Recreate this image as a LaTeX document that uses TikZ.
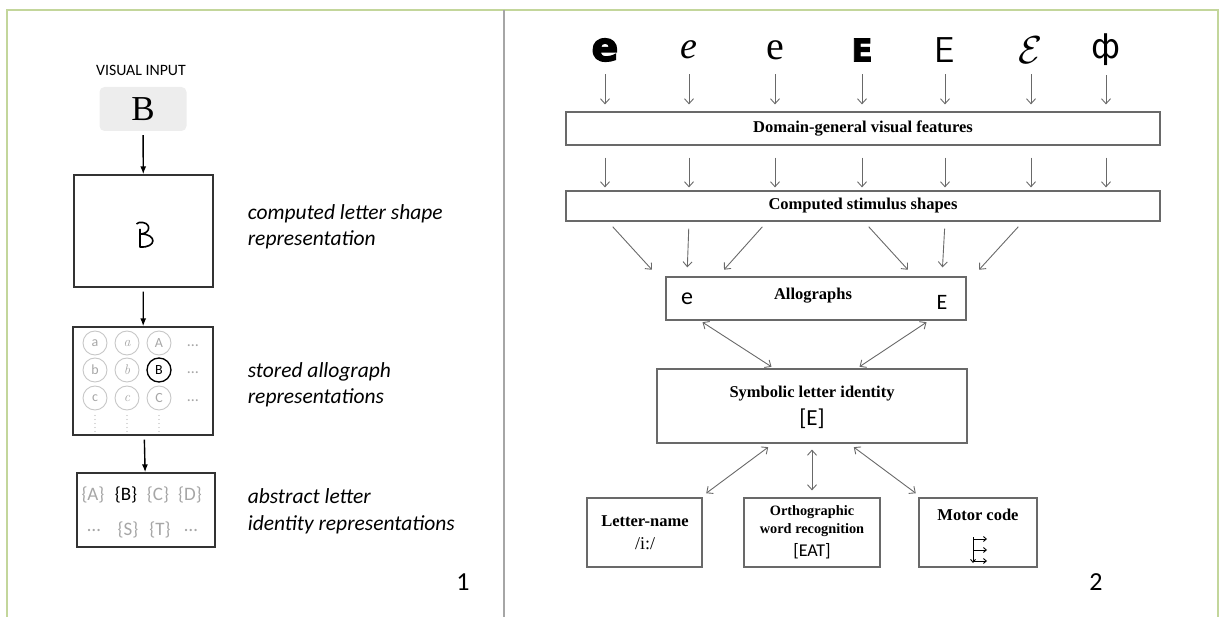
\documentclass[tikz,border=0pt]{standalone}
\usepackage{amsmath}
\usepackage{graphicx}
\usepackage{fontspec}
\newfontfamily\calfont{Carlito}
\newfontfamily\tms{Liberation Serif}
\newfontfamily\heavy[FakeBold=3]{DejaVu Sans}
\newfontfamily\dvs{DejaVu Sans}
\usepackage{tikz}
\usetikzlibrary{arrows.meta,positioning,calc}

\definecolor{framegreen}{RGB}{195,214,155}
\definecolor{linegray}{RGB}{105,105,105}

\begin{document}
\begin{tikzpicture}[x=1pt,y=-1pt,
			box/.style={draw=black!80,line width=1.3pt,inner sep=0pt},
			gbox/.style={draw=linegray,line width=1.2pt,inner sep=0pt},
			circ/.style={circle,draw=black!22,line width=0.9pt,minimum size=24pt,
				inner sep=0pt,text=black!35,font=\calfont\fontsize{14}{14}\selectfont},
			soft/.style={text=black!35},
			vdots/.style={black!30,line width=1.3pt,line cap=round,dash pattern=on 0pt off 4pt},
			absl/.style={font=\calfont\fontsize{19}{19}\selectfont},
			lbl/.style={font=\calfont\itshape\fontsize{21.5}{26.5}\selectfont,align=left,anchor=west,inner sep=0pt},
			hd/.style={font=\tms\bfseries\fontsize{16.5}{18}\selectfont},
			sans/.style={font=\calfont\fontsize{18}{18}\selectfont},
			glyph/.style={minimum height=30pt,inner sep=0pt},
			blk/.style={-{Latex[length=8pt,width=6pt]},line width=1.4pt},
			gry/.style={-{Straight Barb[length=5pt,width=9pt]},color=linegray,line width=0.9pt},
			dbl/.style={{Straight Barb[length=5pt,width=9pt]}-{Straight Barb[length=5pt,width=9pt]},
				color=linegray,line width=0.9pt},
			motorarrow/.style={-{Straight Barb[length=3pt,width=5pt]},line width=0.9pt}]
			
			\useasboundingbox (0,0) rectangle (1219,617);
			\draw[framegreen,line width=2pt] (7,617) -- (7,10) -- (1217.5,10) -- (1217.5,617);
			\draw[black!35,line width=2pt] (504,10) -- (504,617);
			
			% panel 1
			\node[font=\calfont\fontsize{15.8}{16}\selectfont] (vis) at (141,70) {VISUAL INPUT};
			\node[fill=black!7,rounded corners=5pt,minimum width=87pt,minimum height=44pt,
				inner sep=0pt,font=\tms\fontsize{35}{35}\selectfont] (input) at (143,109) {B};
			\node[box,minimum width=139pt,minimum height=112pt] (shape) at (143.5,231) {};
			\draw[line width=1.6pt,line join=round] (136.5,224) -- (139,222.5)
				.. controls (151,221) and (152,233) .. (141,234)
				.. controls (157,234) and (157,248) .. (140,247) -- (140,229);
			\node[box,minimum width=140pt,minimum height=108pt] (allo) at (143,381) {};
			\node[circ] (ca1) at (95,343) {a};
			\node[circ] (ca2) at (127,343) {\rmfamily\itshape a};
			\node[circ] (ca3) at (159,343) {A};
			\node[circ] (cb1) at (95,370) {b};
			\node[circ] (cb2) at (127,370) {\rmfamily\itshape b};
			\node[circ,draw=black,line width=1.3pt,text=black] (cb3) at (159,370) {B};
			\node[circ] (cc1) at (95,398) {c};
			\node[circ] (cc2) at (127,398) {\rmfamily\itshape c};
			\node[circ] (cc3) at (159,398) {C};
			\node[soft,font=\calfont\fontsize{16}{16}\selectfont] (da) at (193,346) {\dots};
			\node[soft,font=\calfont\fontsize{16}{16}\selectfont] (db) at (193,373) {\dots};
			\node[soft,font=\calfont\fontsize{16}{16}\selectfont] (dc) at (193,401) {\dots};
			\draw[vdots] ([yshift=-5pt]cc1.south) -- ++(0,16);
			\draw[vdots] ([yshift=-5pt]cc2.south) -- ++(0,16);
			\draw[vdots] ([yshift=-5pt]cc3.south) -- ++(0,16);
			\node[box,minimum width=138pt,minimum height=74pt] (abstr) at (146,510) {};
			\node[absl,soft] (iA) at (93,495) {\{A\}};
			\node[absl] (iB) at (126,495) {\{B\}};
			\node[absl,soft] (iC) at (158,495) {\{C\}};
			\node[absl,soft] (iD) at (190,495) {\{D\}};
			\node[absl,soft] (iL) at (94,530) {\dots};
			\node[absl,soft] (iS) at (128,530) {\{S\}};
			\node[absl,soft] (iT) at (160,530) {\{T\}};
			\node[absl,soft] (iR) at (191,530) {\dots};
			\node[lbl,right=34pt of shape,yshift=4pt] (shapelbl) {computed letter shape\\representation};
			\node[lbl,right=34pt of allo,yshift=-4pt] (allolbl) {stored allograph\\representations};
			\node[lbl,right=32pt of abstr,yshift=-1.5pt] (abstrlbl) {abstract letter\\identity representations};
			\node[font=\calfont\fontsize{26}{26}\selectfont] (n1) at (463,582) {1};
			
			\path[blk,shorten <=4pt]
			(input) edge (shape)
			(shape) edge (allo)
			(allo) edge (abstr);
			
			% panel 2
			\node[glyph,font=\heavy\bfseries\fontsize{40}{40}\selectfont] (g1) at (605,50) {e};
			\node[glyph,font=\tms\itshape\fontsize{38}{38}\selectfont] (g2) at (689,50) {e};
			\node[glyph,font=\tms\fontsize{40}{40}\selectfont] (g3) at (775,50) {e};
			\node[glyph,font=\heavy\bfseries\fontsize{31}{31}\selectfont] (g4) at (862,50) {E};
			\node[glyph,font=\sffamily\fontsize{36}{36}\selectfont] (g5) at (945,50) {E};
			\node[glyph] (g6) at (1031,50) {\scalebox{3.9}{$\mathcal{E}$}};
			\node[glyph,font=\dvs\fontsize{34}{34}\selectfont] (g7) at (1106,50) {ф};
			
			\node[gbox,hd,minimum width=594pt,minimum height=33pt] (feat) at (863,128.5) {Domain-general visual features};
			\node[gbox,hd,minimum width=594pt,minimum height=30pt] (shapes) at (863,206) {Computed stimulus shapes};
			\node[gbox,minimum width=300pt,minimum height=43pt] (allog) at (816,298.5) {};
			\node[hd] (allogtxt) at (813,296) {Allographs};
			\node[font=\calfont\fontsize{24}{24}\selectfont] (ae) at (687,299) {e};
			\node[font=\calfont\fontsize{22}{22}\selectfont] (aE) at (942,302) {E};
			\node[gbox,minimum width=310pt,minimum height=74pt] (sym) at (812,406) {};
			\node[hd] (symtxt) at (812,394) {Symbolic letter identity};
			\node[font=\calfont\fontsize{23}{23}\selectfont] (symE) at (812,419) {[E]};
			\node[gbox,minimum width=115pt,minimum height=69pt] (lname) at (644.5,532.5) {};
			\node[hd] (lnametxt) at (645,521) {Letter-name};
			\node[font=\tms\fontsize{18}{18}\selectfont] (lnameipa) at (645,544) {/i:/};
			\node[gbox,minimum width=136pt,minimum height=69pt] (ortho) at (812,532.5) {};
			\node[hd,font=\tms\bfseries\fontsize{14.3}{18.5}\selectfont,align=center] (orthotxt) at (812,521) {Orthographic\\word recognition};
			\node[sans] (orthoEAT) at (812,551) {[EAT]};
			\node[gbox,minimum width=118pt,minimum height=69pt] (motor) at (978,532.5) {};
			\node[hd] (motortxt) at (978,515) {Motor code};
			\draw[motorarrow] (973,537) -- (973,563);
			\draw[motorarrow] (973,539) -- (987,539);
			\draw[motorarrow] (973,550) -- (987,550);
			\draw[motorarrow] (973,561) -- (987,561);
			\node[font=\calfont\fontsize{26}{26}\selectfont] (n2) at (1096,582) {2};
			
			\path[gry,shorten <=9pt,shorten >=7pt]
			(g1.south) edge (g1 |- feat.north)
			(g2.south) edge (g2 |- feat.north)
			(g3.south) edge (g3 |- feat.north)
			(g4.south) edge (g4 |- feat.north)
			(g5.south) edge (g5 |- feat.north)
			(g6.south) edge (g6 |- feat.north)
			(g7.south) edge (g7 |- feat.north);
			\path[gry,shorten <=12pt,shorten >=3pt]
			(g1 |- feat.south) edge (g1 |- shapes.north)
			(g2 |- feat.south) edge (g2 |- shapes.north)
			(g3 |- feat.south) edge (g3 |- shapes.north)
			(g4 |- feat.south) edge (g4 |- shapes.north)
			(g5 |- feat.south) edge (g5 |- shapes.north)
			(g6 |- feat.south) edge (g6 |- shapes.north)
			(g7 |- feat.south) edge (g7 |- shapes.north);
			\path[gry,shorten <=7pt,shorten >=9pt]
			($(g1 |- shapes.south)+(3,0)$) edge ($(ae |- allog.north)+(-29,0)$)
			(g2 |- shapes.south) edge (ae |- allog.north)
			($(g3 |- shapes.south)+(-8,0)$) edge ($(ae |- allog.north)+(31,0)$)
			($(g4 |- shapes.south)+(2,0)$) edge ($(aE |- allog.north)+(-28,0)$)
			(g5 |- shapes.south) edge (aE |- allog.north)
			($(g6 |- shapes.south)+(-8,0)$) edge ($(aE |- allog.north)+(31,0)$);
			\path[dbl,shorten <=3pt,shorten >=3pt]
			([xshift=-116pt]allog.south) edge ([xshift=-38pt]sym.north)
			([xshift=113pt]allog.south) edge ([xshift=45pt]sym.north);
			\path[dbl,shorten <=6pt,shorten >=7pt]
			([xshift=-39pt]sym.south) edge ([xshift=-2pt]lname.north east)
			(sym.south) edge (ortho.north)
			([xshift=37pt]sym.south) edge ([xshift=3pt]motor.north west);
			
		\end{tikzpicture}
\end{document}
